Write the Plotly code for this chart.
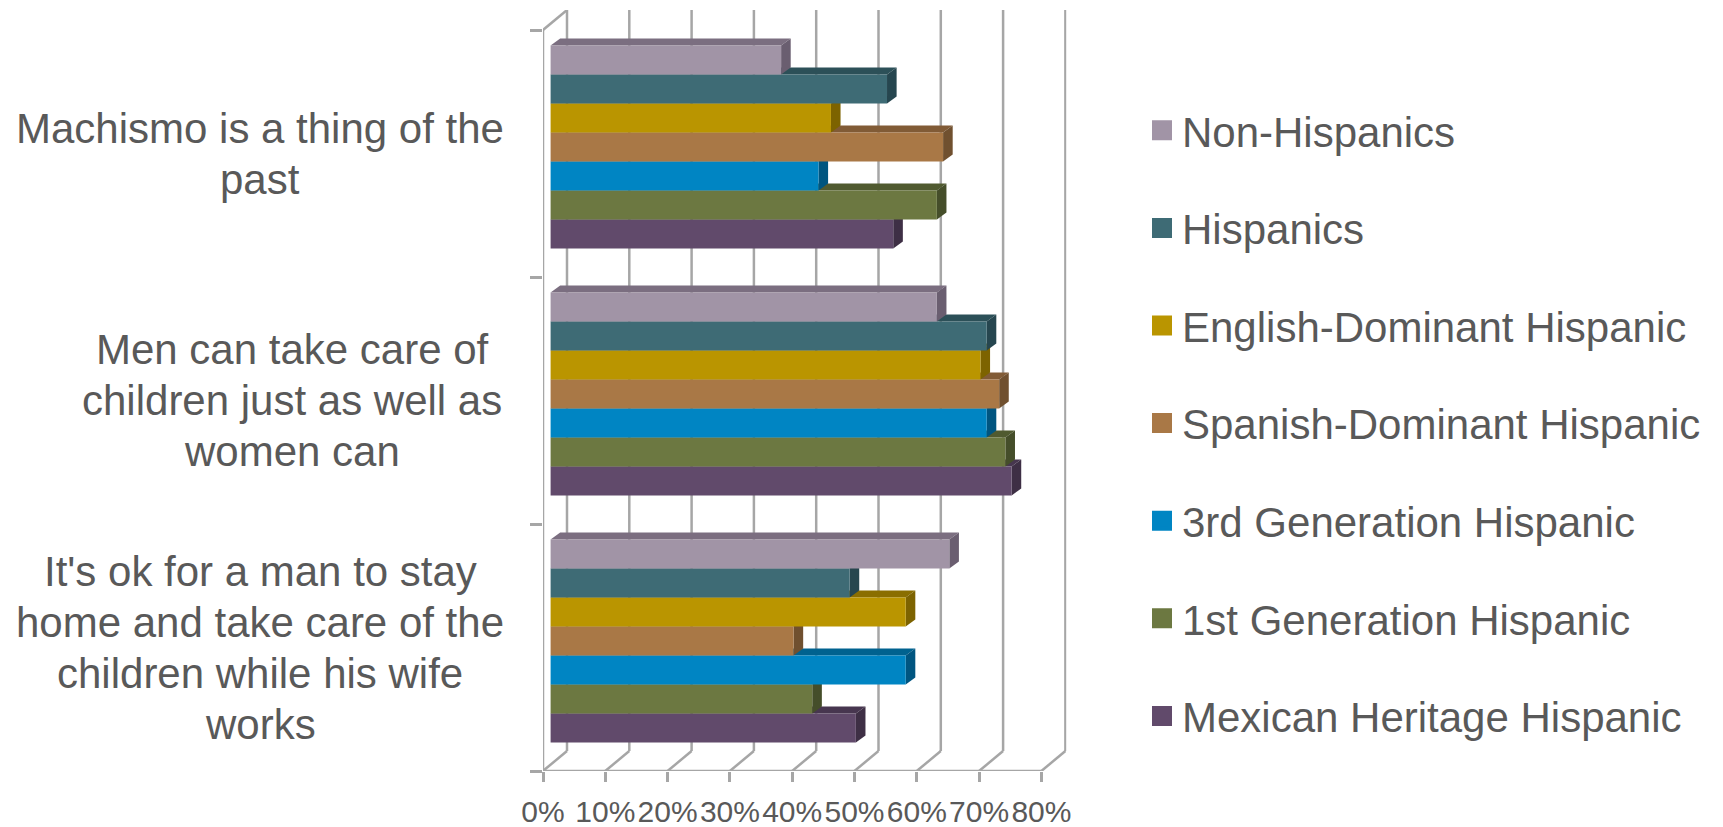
import plotly.graph_objects as go

FIG_W, FIG_H = 1723, 827

# ---- data ----
categories = [
    "Machismo is a thing of the<br>past",
    "Men can take care of<br>children just as well as<br>women can",
    "It's ok for a man to stay<br>home and take care of the<br>children while his wife<br>works",
]
series_names = [
    "Non-Hispanics", "Hispanics", "English-Dominant Hispanic",
    "Spanish-Dominant Hispanic", "3rd Generation Hispanic",
    "1st Generation Hispanic", "Mexican Heritage Hispanic",
]
non_hispanics = [37, 62, 64]
hispanics = [54, 70, 48]
english_dominant = [45, 69, 57]
spanish_dominant = [63, 72, 39]
third_generation = [43, 70, 57]
first_generation = [62, 73, 42]
mexican_heritage = [55, 74, 49]
series_values = [non_hispanics, hispanics, english_dominant, spanish_dominant,
                 third_generation, first_generation, mexican_heritage]
x_ticks = [0, 10, 20, 30, 40, 50, 60, 70, 80]

# ---- styles ----
front_colors = ["#A194A6", "#3E6B75", "#BA9500", "#A97846", "#0085C3", "#6C7841", "#614A6B"]
top_colors = ["#7B6E80", "#2C5058", "#8A6E00", "#815B36", "#00628F", "#505A30", "#47364F"]
side_colors = ["#6A5E70", "#26464F", "#7D6300", "#70502F", "#005580", "#454E2A", "#3E2F45"]
GRID = "#A6A6A6"
TEXT = "#595959"

# ---- pixel geometry -> axis units ----
X0_PX, PX_PER_PCT = 543.0, 6.23
FLOOR_PX, PX_PER_CAT = 771.0, 247.0
TOP_PX = 10.0
X_MAX = 84.0
Y_MAX = (FLOOR_PX - TOP_PX) / PX_PER_CAT
WALL_DX, WALL_DY = 24 / PX_PER_PCT, 20 / PX_PER_CAT
BAR_H = 29 / PX_PER_CAT
BAR_BASE, BAR_LIFT = 7.6 / PX_PER_PCT, 6.5 / PX_PER_CAT
FACE_DX, FACE_DY = 9.6 / PX_PER_PCT, 7 / PX_PER_CAT
LINE_PITCH_PX = 51

fig = go.Figure()
n = len(series_names)
for s, name in enumerate(series_names):
    ys, vals = [], []
    order = 2 * (n - s)
    for c, v in enumerate(series_values[s]):
        yc = (len(categories) - c - 0.5) + BAR_LIFT + ((n - 1) / 2 - s) * BAR_H
        ys.append(yc)
        vals.append(v)
        x1 = BAR_BASE + v
        t, b = yc + BAR_H / 2, yc - BAR_H / 2
        # top face
        fig.add_trace(go.Scatter(
            x=[BAR_BASE, BAR_BASE + FACE_DX, x1 + FACE_DX, x1, BAR_BASE],
            y=[t, t + FACE_DY, t + FACE_DY, t, t],
            mode="lines", fill="toself", fillcolor=top_colors[s],
            line=dict(width=0), showlegend=False, hoverinfo="skip", zorder=order))
        # side face
        fig.add_trace(go.Scatter(
            x=[x1, x1 + FACE_DX, x1 + FACE_DX, x1, x1],
            y=[t, t + FACE_DY, b + FACE_DY, b, t],
            mode="lines", fill="toself", fillcolor=side_colors[s],
            line=dict(width=0), showlegend=False, hoverinfo="skip", zorder=order))
    fig.add_trace(go.Bar(
        y=ys, x=vals, base=BAR_BASE, orientation="h", width=BAR_H,
        marker=dict(color=front_colors[s], line=dict(width=0)),
        name=name, showlegend=False, zorder=order + 1))
    # legend entry
    fig.add_trace(go.Scatter(
        x=[None], y=[None], mode="markers", name=name, legendgroup=name,
        marker=dict(symbol="square", size=16, color=front_colors[s],
                    line=dict(width=4, color=front_colors[s]))))

# ---- walls ----
shapes = []
def seg(x0, y0, x1, y1):
    shapes.append(dict(type="line", xref="x", yref="y", x0=x0, y0=y0, x1=x1, y1=y1,
                       layer="below", line=dict(color=GRID, width=2.5)))
for t in x_ticks:
    seg(t, 0, t + WALL_DX, WALL_DY)
    seg(t + WALL_DX, WALL_DY, t + WALL_DX, len(categories) + WALL_DY)
seg(0, 0, x_ticks[-1], 0)
seg(0, 0, 0, len(categories))
seg(0, len(categories), WALL_DX, len(categories) + WALL_DY)

annotations = []
label_x_px = [260, 292, 260]
for c, text in enumerate(categories):
    lines = text.split("<br>")
    for i, line in enumerate(lines):
        annotations.append(dict(
            text=line, xref="paper", yref="y", x=label_x_px[c] / FIG_W,
            y=len(categories) - c - 0.5, xanchor="center", yanchor="middle",
            yshift=((len(lines) - 1) / 2 - i) * LINE_PITCH_PX,
            align="center", showarrow=False,
            font=dict(family="Liberation Sans", size=42, color=TEXT)))

fig.update_layout(
    width=FIG_W, height=FIG_H, margin=dict(l=0, r=0, t=0, b=0, autoexpand=False),
    paper_bgcolor="white", plot_bgcolor="white", barmode="overlay",
    font=dict(family="Liberation Sans", color=TEXT),
    shapes=shapes, annotations=annotations,
    xaxis=dict(
        domain=[X0_PX / FIG_W, (X0_PX + X_MAX * PX_PER_PCT) / FIG_W],
        range=[0, X_MAX], tickvals=x_ticks, ticktext=[f"{t}%" for t in x_ticks],
        ticks="outside", ticklen=10, tickwidth=2.5, tickcolor=GRID, tickangle=0,
        automargin=False, ticklabelstandoff=4,
        showgrid=False, zeroline=False, showline=False, anchor="y",
        tickfont=dict(family="Liberation Sans", size=30, color=TEXT)),
    yaxis=dict(
        domain=[(FIG_H - FLOOR_PX) / FIG_H, (FIG_H - TOP_PX) / FIG_H],
        range=[0, Y_MAX], tickvals=[0, 1, 2, 3], showticklabels=False,
        ticks="outside", ticklen=12, tickwidth=2.5, tickcolor=GRID, automargin=False,
        showgrid=False, zeroline=False, showline=False, anchor="x"),
    legend=dict(
        x=1142 / FIG_W, y=(FIG_H - 96.5) / FIG_H, xanchor="left", yanchor="top",
        tracegroupgap=40, bgcolor="rgba(0,0,0,0)",
        font=dict(family="Liberation Sans", size=42, color=TEXT)),
)

fig.write_html("out.html", config={"displayModeBar": False},
               post_script="document.body.style.margin='0';")
